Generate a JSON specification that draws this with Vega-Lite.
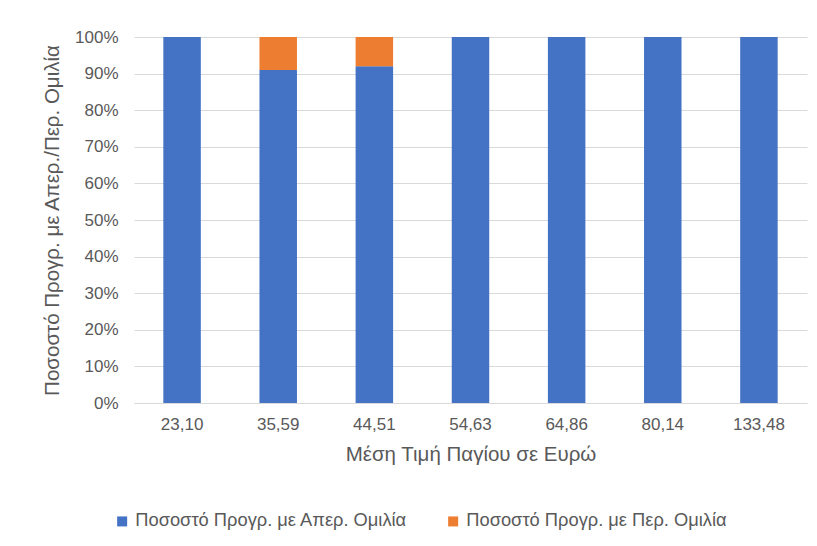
{
  "$schema": "https://vega.github.io/schema/vega-lite/v6.json",
  "autosize": "none",
  "width": 673,
  "height": 366,
  "padding": {"left": 134, "top": 37, "right": 10, "bottom": 143},
  "background": "white",
  "config": {
    "view": {"stroke": null},
    "font": "Liberation Sans",
    "axis": {"labelFont": "Liberation Sans", "titleFont": "Liberation Sans", "labelColor": "#595959", "titleColor": "#595959", "labelFontSize": 17, "titleFontSize": 20.5, "titleFontWeight": "normal", "gridColor": "#D9D9D9", "domainColor": "#D9D9D9", "ticks": false},
    "legend": {"labelFont": "Liberation Sans", "labelColor": "#595959", "labelFontSize": 18.3}
  },
  "data": {
    "values": [
      {"price": "23,10", "series": "Ποσοστό Προγρ. με Απερ. Ομιλία", "ord": 1, "value": 1.0},
      {"price": "23,10", "series": "Ποσοστό Προγρ. με Περ. Ομιλία", "ord": 2, "value": 0.0},
      {"price": "35,59", "series": "Ποσοστό Προγρ. με Απερ. Ομιλία", "ord": 1, "value": 0.91},
      {"price": "35,59", "series": "Ποσοστό Προγρ. με Περ. Ομιλία", "ord": 2, "value": 0.09},
      {"price": "44,51", "series": "Ποσοστό Προγρ. με Απερ. Ομιλία", "ord": 1, "value": 0.92},
      {"price": "44,51", "series": "Ποσοστό Προγρ. με Περ. Ομιλία", "ord": 2, "value": 0.08},
      {"price": "54,63", "series": "Ποσοστό Προγρ. με Απερ. Ομιλία", "ord": 1, "value": 1.0},
      {"price": "54,63", "series": "Ποσοστό Προγρ. με Περ. Ομιλία", "ord": 2, "value": 0.0},
      {"price": "64,86", "series": "Ποσοστό Προγρ. με Απερ. Ομιλία", "ord": 1, "value": 1.0},
      {"price": "64,86", "series": "Ποσοστό Προγρ. με Περ. Ομιλία", "ord": 2, "value": 0.0},
      {"price": "80,14", "series": "Ποσοστό Προγρ. με Απερ. Ομιλία", "ord": 1, "value": 1.0},
      {"price": "80,14", "series": "Ποσοστό Προγρ. με Περ. Ομιλία", "ord": 2, "value": 0.0},
      {"price": "133,48", "series": "Ποσοστό Προγρ. με Απερ. Ομιλία", "ord": 1, "value": 1.0},
      {"price": "133,48", "series": "Ποσοστό Προγρ. με Περ. Ομιλία", "ord": 2, "value": 0.0}
    ]
  },
  "mark": {"type": "bar"},
  "encoding": {
    "x": {
      "field": "price", "type": "nominal", "sort": null,
      "title": "Μέση Τιμή Παγίου σε Ευρώ",
      "scale": {"paddingInner": 0.61, "paddingOuter": 0.305},
      "axis": {"labelAngle": 0, "labelPadding": 13, "titlePadding": 12, "grid": false, "domain": true}
    },
    "y": {
      "field": "value", "type": "quantitative", "stack": "zero",
      "title": "Ποσοστό Προγρ. με Απερ./Περ. Ομιλία",
      "scale": {"domain": [0, 1], "nice": false},
      "axis": {"format": ".0%", "values": [0, 0.1, 0.2, 0.3, 0.4, 0.5, 0.6, 0.7, 0.8, 0.9, 1], "labelOverlap": false, "domain": false, "labelPadding": 16, "titlePadding": 12}
    },
    "color": {
      "field": "series", "type": "nominal",
      "scale": {"domain": ["Ποσοστό Προγρ. με Απερ. Ομιλία", "Ποσοστό Προγρ. με Περ. Ομιλία"], "range": ["#4472C4", "#ED7D31"]},
      "legend": {"title": null, "orient": "none", "direction": "horizontal", "legendX": -21, "legendY": 475, "symbolType": "square", "symbolSize": 100, "symbolStrokeWidth": 0, "symbolOpacity": 1, "columnPadding": 36, "labelOffset": 4, "labelLimit": 400}
    },
    "order": {"field": "ord", "type": "quantitative"}
  }
}
